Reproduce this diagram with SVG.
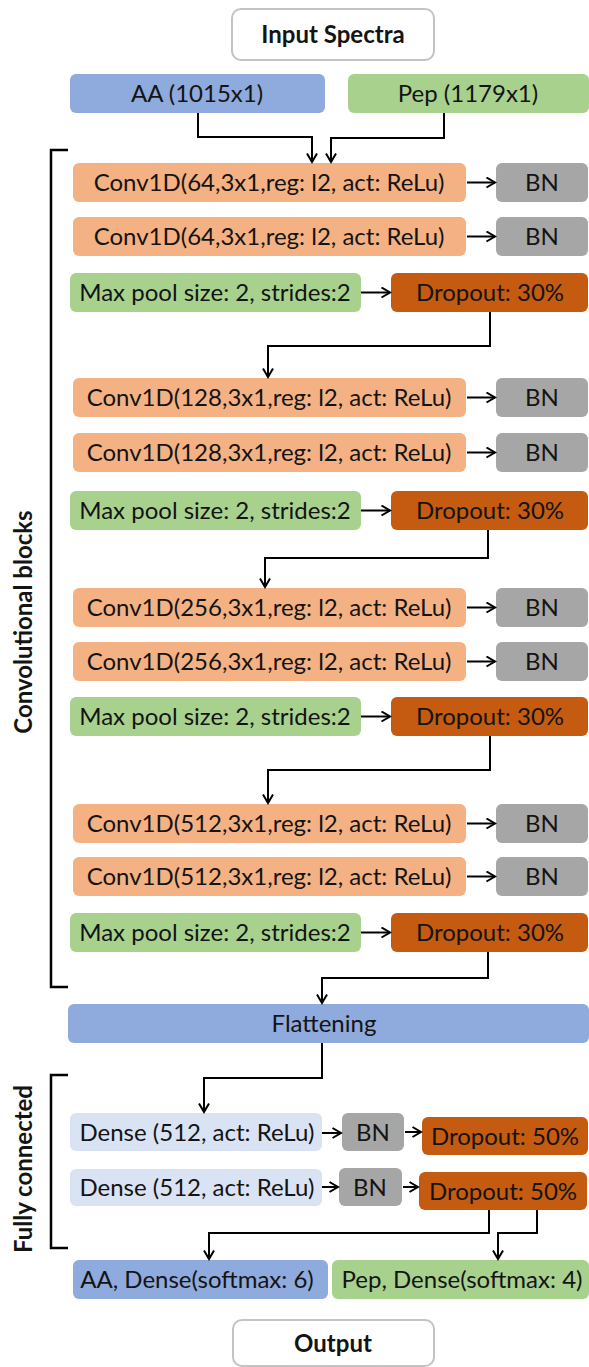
<svg xmlns="http://www.w3.org/2000/svg" width="589" height="1367" viewBox="0 0 589 1367">
  <defs>
    <marker id="arrow" markerUnits="userSpaceOnUse" markerWidth="14" markerHeight="14" refX="10" refY="6" orient="auto">
      <path d="M1.5,1 L10,6 L1.5,11" fill="none" stroke="#000" stroke-width="2"/>
    </marker>
    <style>
      text { font-family: "Lato", "Open Sans", sans-serif; font-size: 24px; fill: #141414; text-anchor: middle; }
      .bold { font-weight: bold; }
      .term { fill: #ffffff; stroke: #c3c3c3; stroke-width: 2; }
      .blue { fill: #8faadc; }
      .green { fill: #a9d18e; }
      .conv { fill: #f4b183; }
      .bn { fill: #a6a6a6; }
      .drop { fill: #c55a11; }
      .dense { fill: #dae3f3; }
      .link { fill: none; stroke: #000; stroke-width: 2; }
      .arr { marker-end: url(#arrow); }
      .bracket { fill: none; stroke: #000; stroke-width: 2.5; }
    </style>
  </defs>

  <rect width="589" height="1367" fill="#ffffff"/>

  <!-- inputs -->
  <g id="input-spectra">
    <rect class="term" x="232" y="9" width="202" height="51" rx="9"/>
    <text class="bold" x="333" y="43">Input Spectra</text>
  </g>
  <g id="aa-input">
    <rect class="blue" x="70" y="74" width="255" height="39" rx="6"/>
    <text x="197" y="102">AA (1015x1)</text>
  </g>
  <g id="pep-input">
    <rect class="green" x="348" y="74" width="241" height="39" rx="6"/>
    <text x="468" y="102">Pep (1179x1)</text>
  </g>

  <!-- convolutional block 1 -->
  <g id="conv64-1">
    <rect class="conv" x="73" y="163" width="393" height="39" rx="6"/>
    <text x="269" y="191">Conv1D(64,3x1,reg: l2, act: ReLu)</text>
  </g>
  <g id="bn-1">
    <rect class="bn" x="496" y="163" width="92" height="39" rx="6"/>
    <text x="542" y="191">BN</text>
  </g>
  <g id="conv64-2">
    <rect class="conv" x="73" y="217" width="393" height="39" rx="6"/>
    <text x="269" y="245">Conv1D(64,3x1,reg: l2, act: ReLu)</text>
  </g>
  <g id="bn-2">
    <rect class="bn" x="496" y="217" width="92" height="39" rx="6"/>
    <text x="542" y="245">BN</text>
  </g>
  <g id="pool-1">
    <rect class="green" x="70" y="273" width="291" height="39" rx="6"/>
    <text x="215" y="301">Max pool size: 2, strides:2</text>
  </g>
  <g id="drop-1">
    <rect class="drop" x="391" y="273" width="197" height="39" rx="6"/>
    <text x="490" y="301">Dropout: 30%</text>
  </g>

  <!-- convolutional block 2 -->
  <g id="conv128-1">
    <rect class="conv" x="73" y="378" width="393" height="39" rx="6"/>
    <text x="269" y="406">Conv1D(128,3x1,reg: l2, act: ReLu)</text>
  </g>
  <g id="bn-3">
    <rect class="bn" x="496" y="378" width="92" height="39" rx="6"/>
    <text x="542" y="406">BN</text>
  </g>
  <g id="conv128-2">
    <rect class="conv" x="73" y="433" width="393" height="39" rx="6"/>
    <text x="269" y="461">Conv1D(128,3x1,reg: l2, act: ReLu)</text>
  </g>
  <g id="bn-4">
    <rect class="bn" x="496" y="433" width="92" height="39" rx="6"/>
    <text x="542" y="461">BN</text>
  </g>
  <g id="pool-2">
    <rect class="green" x="70" y="491" width="291" height="39" rx="6"/>
    <text x="215" y="519">Max pool size: 2, strides:2</text>
  </g>
  <g id="drop-2">
    <rect class="drop" x="391" y="491" width="197" height="39" rx="6"/>
    <text x="490" y="519">Dropout: 30%</text>
  </g>

  <!-- convolutional block 3 -->
  <g id="conv256-1">
    <rect class="conv" x="73" y="588" width="393" height="39" rx="6"/>
    <text x="269" y="616">Conv1D(256,3x1,reg: l2, act: ReLu)</text>
  </g>
  <g id="bn-5">
    <rect class="bn" x="496" y="588" width="92" height="39" rx="6"/>
    <text x="542" y="616">BN</text>
  </g>
  <g id="conv256-2">
    <rect class="conv" x="73" y="642" width="393" height="39" rx="6"/>
    <text x="269" y="670">Conv1D(256,3x1,reg: l2, act: ReLu)</text>
  </g>
  <g id="bn-6">
    <rect class="bn" x="496" y="642" width="92" height="39" rx="6"/>
    <text x="542" y="670">BN</text>
  </g>
  <g id="pool-3">
    <rect class="green" x="70" y="697" width="291" height="39" rx="6"/>
    <text x="215" y="725">Max pool size: 2, strides:2</text>
  </g>
  <g id="drop-3">
    <rect class="drop" x="391" y="697" width="197" height="39" rx="6"/>
    <text x="490" y="725">Dropout: 30%</text>
  </g>

  <!-- convolutional block 4 -->
  <g id="conv512-1">
    <rect class="conv" x="73" y="804" width="393" height="39" rx="6"/>
    <text x="269" y="832">Conv1D(512,3x1,reg: l2, act: ReLu)</text>
  </g>
  <g id="bn-7">
    <rect class="bn" x="496" y="804" width="92" height="39" rx="6"/>
    <text x="542" y="832">BN</text>
  </g>
  <g id="conv512-2">
    <rect class="conv" x="73" y="857" width="393" height="39" rx="6"/>
    <text x="269" y="885">Conv1D(512,3x1,reg: l2, act: ReLu)</text>
  </g>
  <g id="bn-8">
    <rect class="bn" x="496" y="857" width="92" height="39" rx="6"/>
    <text x="542" y="885">BN</text>
  </g>
  <g id="pool-4">
    <rect class="green" x="70" y="913" width="291" height="39" rx="6"/>
    <text x="215" y="941">Max pool size: 2, strides:2</text>
  </g>
  <g id="drop-4">
    <rect class="drop" x="391" y="913" width="197" height="39" rx="6"/>
    <text x="490" y="941">Dropout: 30%</text>
  </g>

  <g id="flattening">
    <rect class="blue" x="68" y="1004" width="521" height="39" rx="6"/>
    <text x="324" y="1032">Flattening</text>
  </g>

  <!-- fully connected part -->
  <g id="dense-1">
    <rect class="dense" x="70" y="1113" width="252" height="38" rx="6"/>
    <text x="197" y="1141">Dense (512, act: ReLu)</text>
  </g>
  <g id="bn-9">
    <rect class="bn" x="342" y="1113" width="62" height="38" rx="6"/>
    <text x="373" y="1141">BN</text>
  </g>
  <g id="drop-5">
    <rect class="drop" x="422" y="1117" width="166" height="38" rx="6"/>
    <text x="505" y="1145">Dropout: 50%</text>
  </g>
  <g id="dense-2">
    <rect class="dense" x="70" y="1169" width="252" height="37" rx="6"/>
    <text x="197" y="1196">Dense (512, act: ReLu)</text>
  </g>
  <g id="bn-10">
    <rect class="bn" x="339" y="1168" width="63" height="38" rx="6"/>
    <text x="370" y="1196">BN</text>
  </g>
  <g id="drop-6">
    <rect class="drop" x="419" y="1172" width="168" height="38" rx="6"/>
    <text x="503" y="1200">Dropout: 50%</text>
  </g>

  <!-- outputs -->
  <g id="aa-output">
    <rect class="blue" x="73" y="1260" width="255" height="39" rx="6"/>
    <text x="197" y="1288">AA, Dense(softmax: 6)</text>
  </g>
  <g id="pep-output">
    <rect class="green" x="332" y="1260" width="257" height="39" rx="6"/>
    <text x="462" y="1288">Pep, Dense(softmax: 4)</text>
  </g>
  <g id="output">
    <rect class="term" x="233" y="1320" width="201" height="46" rx="9"/>
    <text class="bold" x="333" y="1352">Output</text>
  </g>

  <!-- group labels with brackets -->
  <g id="conv-blocks-label">
    <path class="bracket" d="M68,150 H51 V987 H68"/>
    <text class="bold" transform="translate(32,622) rotate(-90)">Convolutional blocks</text>
  </g>
  <g id="fully-connected-label">
    <path class="bracket" d="M68,1075 H51 V1248 H68"/>
    <text class="bold" transform="translate(32,1169) rotate(-90)">Fully connected</text>
  </g>

  <!-- connectors -->
  <g id="connectors">
    <path class="link arr" d="M198,113 V137 H312 V162"/>
    <path class="link arr" d="M444,113 V138 H331 V162"/>

    <path class="link arr" d="M467,182.5 H495"/>
    <path class="link arr" d="M467,236.5 H495"/>
    <path class="link arr" d="M361,292.5 H390"/>
    <path class="link arr" d="M490,312 V346 H268 V377"/>

    <path class="link arr" d="M467,397.5 H495"/>
    <path class="link arr" d="M467,452.5 H495"/>
    <path class="link arr" d="M361,510.5 H390"/>
    <path class="link arr" d="M488,530 V558 H265 V587"/>

    <path class="link arr" d="M467,607.5 H495"/>
    <path class="link arr" d="M467,661.5 H495"/>
    <path class="link arr" d="M361,716.5 H390"/>
    <path class="link arr" d="M490,736 V770 H268 V803"/>

    <path class="link arr" d="M467,823.5 H495"/>
    <path class="link arr" d="M467,876.5 H495"/>
    <path class="link arr" d="M361,932.5 H390"/>
    <path class="link arr" d="M488,952 V978 H322 V1003"/>

    <path class="link arr" d="M322,1043 V1078 H204 V1112"/>

    <path class="link arr" d="M322,1133 H341"/>
    <path class="link arr" d="M405,1132 H421"/>
    <path class="link arr" d="M322,1187 H338"/>
    <path class="link arr" d="M403,1187 H418"/>

    <path class="link arr" d="M489,1210 V1233 H209 V1259"/>
    <path class="link arr" d="M537,1210 V1233 H498 V1259"/>
  </g>
</svg>
